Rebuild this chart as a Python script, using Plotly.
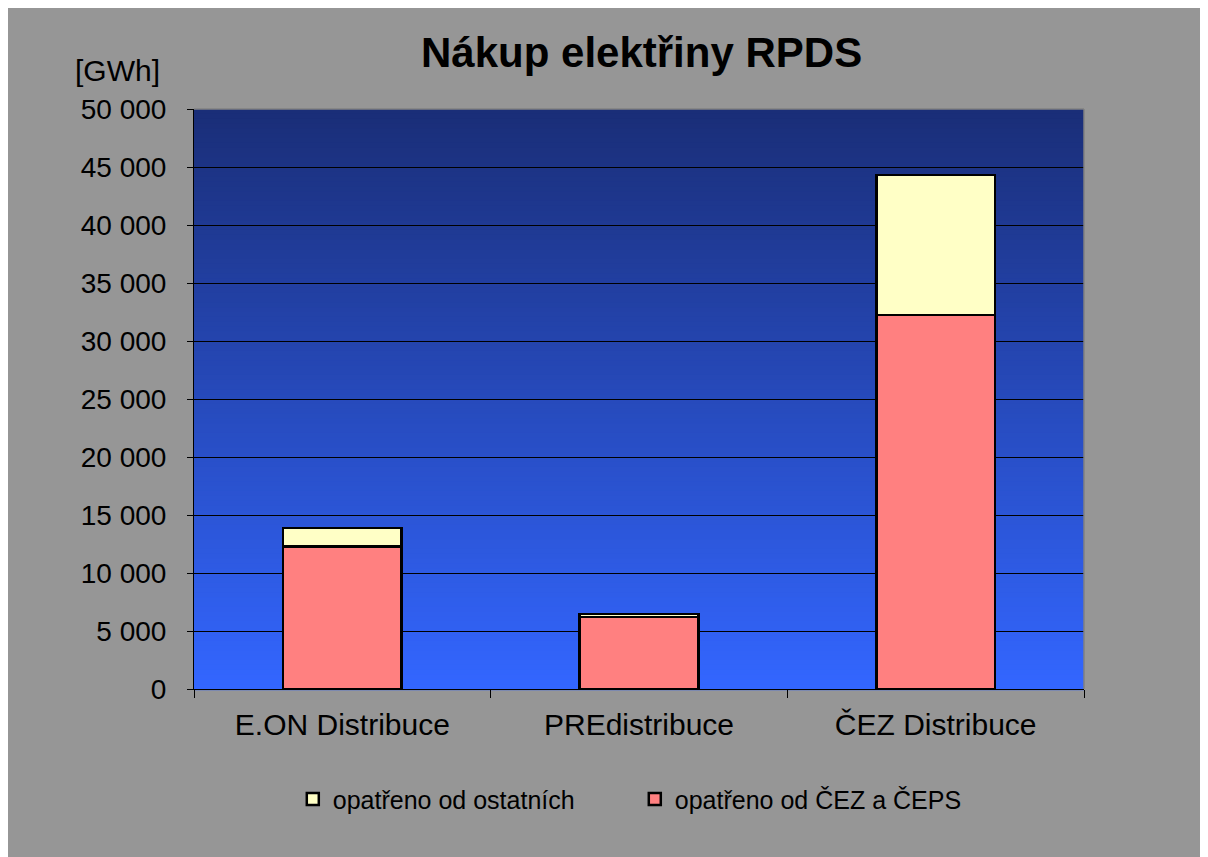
import plotly.graph_objects as go

categories = ["E.ON Distribuce", "PREdistribuce", "ČEZ Distribuce"]
cez_ceps = [12300, 6200, 32250]
others = [1580, 250, 12060]
series_names = ["opatřeno od ČEZ a ČEPS", "opatřeno od ostatních"]

FONT = "Liberation Sans, Arial, sans-serif"

fig = go.Figure()
fig.add_trace(go.Bar(
    x=categories, y=cez_ceps, name=series_names[0],
    marker=dict(color="#FF8080", line=dict(color="black", width=2.5)),
))
fig.add_trace(go.Bar(
    x=categories, y=others, name=series_names[1],
    marker=dict(color="#FFFFC6", line=dict(color="black", width=2.5)),
))

# gradient background for the plot area
top = (26, 46, 120)
bot = (51, 102, 255)
n = 120
shapes = []
for i in range(n):
    t = i / (n - 1)
    c = tuple(round(top[k] + (bot[k] - top[k]) * t) for k in range(3))
    y1 = 1 - i / n
    y0 = 1 - (i + 1) / n
    shapes.append(dict(type="rect", xref="x domain", yref="y domain",
                       x0=0, x1=1, y0=y0 - 0.002, y1=y1,
                       fillcolor="rgb(%d,%d,%d)" % c, line=dict(width=0),
                       layer="below"))
shapes.append(dict(type="line", xref="x domain", yref="y domain", x0=0, x1=1, y0=1, y1=1,
                   line=dict(color="#808080", width=1.5), layer="above"))
shapes.append(dict(type="line", xref="x domain", yref="y domain", x0=1, x1=1, y0=0, y1=1,
                   line=dict(color="#808080", width=1.5), layer="above"))

fig.update_layout(
    width=1200, height=849,
    barmode="stack", bargap=0.6,
    paper_bgcolor="#969696", plot_bgcolor="#3366FF",
    margin=dict(l=186, r=124, t=101, b=168),
    separators=". ",
    font=dict(family=FONT, color="black", size=28),
    title=dict(text="<b>Nákup elektřiny RPDS</b>", x=0.528, xanchor="center",
               y=1 - 44 / 849, yanchor="middle", font=dict(size=42, family=FONT)),
    shapes=shapes,
    showlegend=True,
    legend=dict(orientation="h", x=0.111, xanchor="left", y=-0.19, yanchor="middle",
                traceorder="reversed", font=dict(size=25, family=FONT),
                entrywidth=297, itemwidth=30, bgcolor="rgba(0,0,0,0)"),
    annotations=[dict(text="[GWh]", xref="paper", yref="paper",
                      x=-0.0865, y=1 + 39 / 580, xanchor="center", yanchor="middle",
                      showarrow=False, font=dict(size=30, family=FONT))],
)
fig.update_yaxes(range=[0, 50000], dtick=5000, tickformat=",d",
                 showgrid=True, gridcolor="black", gridwidth=1,
                 showline=True, linecolor="black", linewidth=1,
                 ticks="outside", ticklen=6, tickcolor="black",
                 ticklabelstandoff=15,
                 zeroline=False, tickfont=dict(size=28))
fig.update_xaxes(showline=True, linecolor="black", linewidth=1,
                 ticks="outside", tickson="boundaries", ticklen=8, tickcolor="black",
                 ticklabelstandoff=9, tickfont=dict(size=30))

fig.write_html("out.html")
